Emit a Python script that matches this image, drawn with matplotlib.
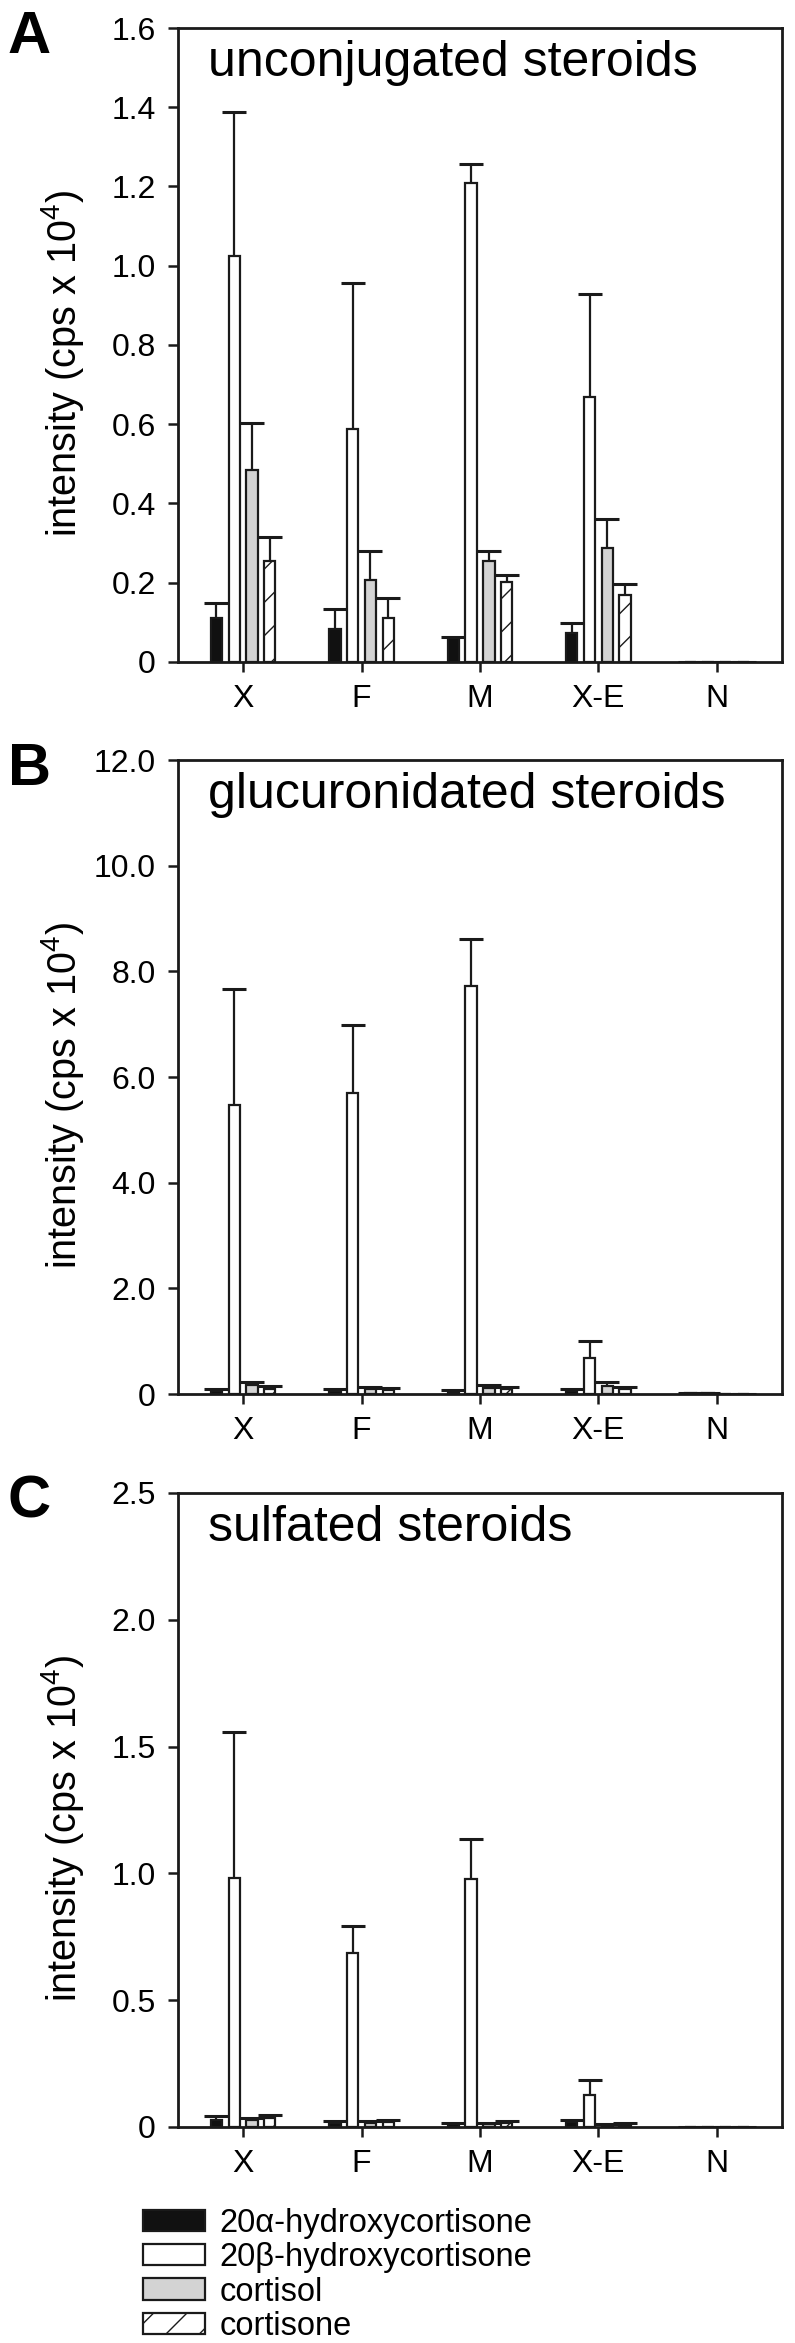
import numpy as np
import matplotlib.pyplot as plt

# ==== Fonts ==== #
plt.rcParams['font.family'] = 'Liberation Sans'
plt.rcParams['mathtext.default'] = 'regular'
plt.rcParams['hatch.linewidth'] = 1.0

# ==== Data (intensity, cps x 10^4; mean and upper SD) ==== #
groups = ["X", "F", "M", "X-E", "N"]
labels = ["20\u03b1-hydroxycortisone", "20\u03b2-hydroxycortisone", "cortisol", "cortisone"]

# A: unconjugated steroids
unconj_20a = [0.110, 0.084, 0.060, 0.074, 0.0]
unconj_20a_sd = [0.040, 0.049, 0.003, 0.025, 0.0]
unconj_20b = [1.024, 0.588, 1.210, 0.669, 0.0]
unconj_20b_sd = [0.365, 0.369, 0.046, 0.260, 0.0]
unconj_cortisol = [0.484, 0.206, 0.256, 0.287, 0.0]
unconj_cortisol_sd = [0.118, 0.073, 0.025, 0.074, 0.0]
unconj_cortisone = [0.256, 0.112, 0.202, 0.169, 0.0]
unconj_cortisone_sd = [0.060, 0.049, 0.018, 0.027, 0.0]

# B: glucuronidated steroids
gluc_20a = [0.05, 0.05, 0.04, 0.05, 0.01]
gluc_20a_sd = [0.04, 0.05, 0.04, 0.05, 0.01]
gluc_20b = [5.47, 5.69, 7.72, 0.69, 0.01]
gluc_20b_sd = [2.20, 1.29, 0.89, 0.31, 0.01]
gluc_cortisol = [0.17, 0.09, 0.12, 0.16, 0.0]
gluc_cortisol_sd = [0.06, 0.05, 0.05, 0.07, 0.0]
gluc_cortisone = [0.10, 0.08, 0.09, 0.09, 0.0]
gluc_cortisone_sd = [0.05, 0.04, 0.035, 0.05, 0.0]

# C: sulfated steroids
sulf_20a = [0.027, 0.015, 0.010, 0.020, 0.0]
sulf_20a_sd = [0.015, 0.009, 0.006, 0.009, 0.0]
sulf_20b = [0.982, 0.687, 0.976, 0.127, 0.0]
sulf_20b_sd = [0.575, 0.105, 0.158, 0.060, 0.0]
sulf_cortisol = [0.027, 0.015, 0.010, 0.008, 0.0]
sulf_cortisol_sd = [0.009, 0.009, 0.006, 0.005, 0.0]
sulf_cortisone = [0.036, 0.018, 0.015, 0.008, 0.0]
sulf_cortisone_sd = [0.013, 0.009, 0.010, 0.006, 0.0]

a_ticks = [0, 0.2, 0.4, 0.6, 0.8, 1.0, 1.2, 1.4, 1.6]
a_ticklabels = ["0", "0.2", "0.4", "0.6", "0.8", "1.0", "1.2", "1.4", "1.6"]
b_ticks = [0, 2, 4, 6, 8, 10, 12]
b_ticklabels = ["0", "2.0", "4.0", "6.0", "8.0", "10.0", "12.0"]
c_ticks = [0, 0.5, 1.0, 1.5, 2.0, 2.5]
c_ticklabels = ["0", "0.5", "1.0", "1.5", "2.0", "2.5"]

# ==== Styles ==== #
fills = ['#111111', 'white', '#d3d3d3', 'white']
hatches = [None, None, None, '/']
offsets = [-0.225, -0.075, 0.075, 0.225]
bar_w = 0.095
edge = '#1a1a1a'

W, H = 795, 2343
fig = plt.figure(figsize=(W / 100, H / 100), dpi=100)

ax_left, ax_right = 178, 782


def make_axes(top, bottom):
    return fig.add_axes([ax_left / W, 1 - bottom / H, (ax_right - ax_left) / W, (bottom - top) / H])


def plot_panel(ax, means, sds, ymax, ticks, ticklabels, title, letter, top):
    x = np.arange(len(groups))
    bars = []
    for i in range(4):
        xi = x + offsets[i]
        m = np.array(means[i])
        tops = m + np.array(sds[i])
        b = ax.bar(xi, m, bar_w, color=fills[i], edgecolor=edge,
                   linewidth=1.6, hatch=hatches[i], zorder=2, label=labels[i])
        # upper error only, cap on top
        ax.vlines(xi, m, tops, color=edge, linewidth=1.6, zorder=3)
        ax.plot(xi, tops, ls='none', marker='_', ms=17, mew=2.2, color=edge, zorder=3)
        bars.append(b)
    ax.set_xlim(-0.55, 4.55)
    ax.set_ylim(0, ymax)
    ax.set_xticks(x)
    ax.set_xticklabels(groups)
    ax.set_yticks(ticks)
    ax.set_yticklabels(ticklabels)
    ax.tick_params(axis='both', direction='out', length=7, width=1.8, labelsize=23, pad=9, color=edge)
    for s in ax.spines.values():
        s.set_linewidth(2.0)
        s.set_color(edge)
    ax.set_ylabel('intensity (cps x 10$^4$)', fontsize=28.5)
    ax.yaxis.set_label_coords(-(ax_left - 86) / (ax_right - ax_left), 0.471)
    ax.text(0.05, 0.924, title, transform=ax.transAxes, fontsize=36, va='baseline', ha='left')
    fig.text(8 / W, 1 - (top + 25) / H, letter, fontsize=43, fontweight='bold', va='baseline', ha='left')
    return bars


axA = make_axes(28, 662)
plot_panel(axA,
           [unconj_20a, unconj_20b, unconj_cortisol, unconj_cortisone],
           [unconj_20a_sd, unconj_20b_sd, unconj_cortisol_sd, unconj_cortisone_sd],
           1.6, a_ticks, a_ticklabels, 'unconjugated steroids', 'A', 28)

axB = make_axes(760, 1394)
plot_panel(axB,
           [gluc_20a, gluc_20b, gluc_cortisol, gluc_cortisone],
           [gluc_20a_sd, gluc_20b_sd, gluc_cortisol_sd, gluc_cortisone_sd],
           12.0, b_ticks, b_ticklabels, 'glucuronidated steroids', 'B', 760)

axC = make_axes(1493, 2127)
bars = plot_panel(axC,
                  [sulf_20a, sulf_20b, sulf_cortisol, sulf_cortisone],
                  [sulf_20a_sd, sulf_20b_sd, sulf_cortisol_sd, sulf_cortisone_sd],
                  2.5, c_ticks, c_ticklabels, 'sulfated steroids', 'C', 1493)

# ==== Legend ==== #
fig.legend(handles=bars, labels=labels, loc='upper left', bbox_to_anchor=(143 / W, 1 - 2208 / H),
           frameon=False, fontsize=23.5, handlelength=1.9, handleheight=0.62,
           labelspacing=0.1, handletextpad=0.45, borderpad=0, borderaxespad=0)

fig.savefig('out.png', dpi=100)
